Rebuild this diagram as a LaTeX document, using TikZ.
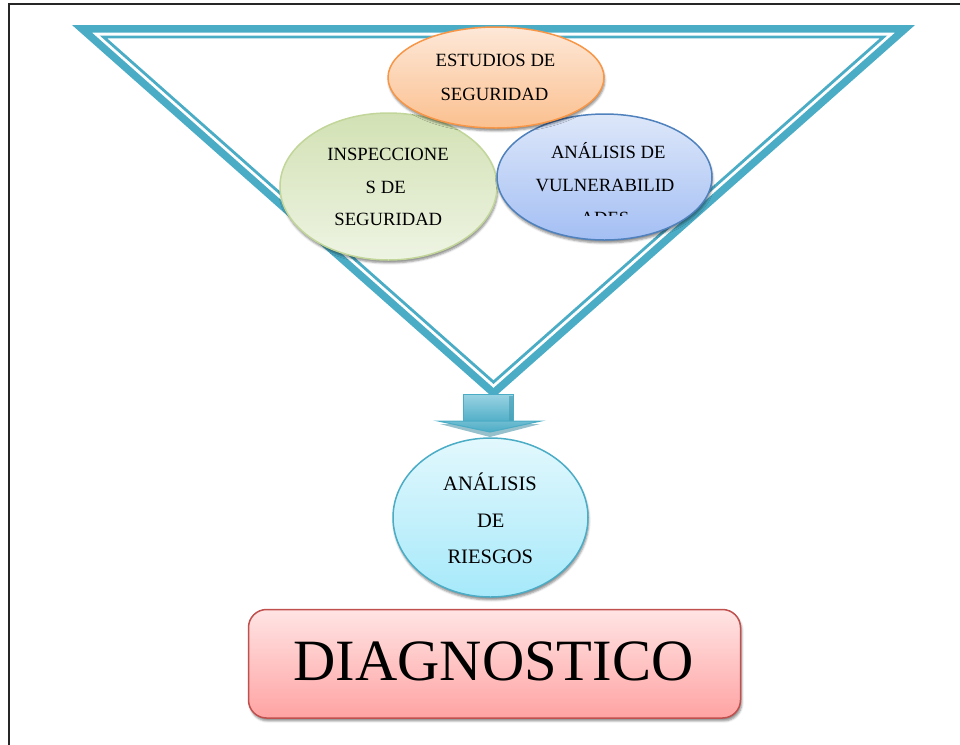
\documentclass[tikz,border=0pt]{standalone}
\usepackage{fontspec}
\setmainfont{Liberation Serif}
\usetikzlibrary{calc,shapes.geometric,shadows.blur}

\definecolor{triblue}{HTML}{4BACC6}
\definecolor{orline}{HTML}{F79646}
\definecolor{ortop}{HTML}{FDE8D8}
\definecolor{orbot}{HTML}{FBC08F}
\definecolor{grline}{HTML}{C2D69A}
\definecolor{grtop}{HTML}{D2E1B4}
\definecolor{grbot}{HTML}{EEF4E3}
\definecolor{blline}{HTML}{4F81BD}
\definecolor{bltop}{HTML}{DDE7F9}
\definecolor{blbot}{HTML}{A4BFF4}
\definecolor{cyline}{HTML}{4BACC6}
\definecolor{cytop}{HTML}{E2F8FD}
\definecolor{cybot}{HTML}{A6E9FA}
\definecolor{rdline}{HTML}{C0504D}
\definecolor{rdtop}{HTML}{FFE4E4}
\definecolor{rdbot}{HTML}{FFA3A3}
\definecolor{arrtop}{HTML}{9AD3E3}
\definecolor{arrbot}{HTML}{4FAEC7}
\definecolor{arrdark}{HTML}{3E8CA2}

\newcommand{\pxu}{0.75pt}

\tikzset{
  bubble/.style={ellipse, inner sep=0pt, line width=1.5*\pxu,
    blur shadow={shadow xshift=0.6pt, shadow yshift=-2.2pt,
      shadow blur radius=1.6pt, shadow opacity=45}},
  smalltxt/.style={anchor=base, inner sep=0pt, font=\fontsize{14}{16}\selectfont},
  midtxt/.style={anchor=base, inner sep=0pt, font=\fontsize{15.4}{18}\selectfont},
  bigtxt/.style={anchor=base, inner sep=0pt, font=\fontsize{43.9}{50}\selectfont},
}

\begin{document}
\begin{tikzpicture}[x=0.75pt, y=-0.75pt]
\useasboundingbox (0,0) rectangle (960,744);

% page frame (runs off the right and bottom edges)
\draw[line width=1.8*\pxu, black!85] (9,760) -- (9,4) -- (975,4);

% outer triangle and its offsets toward the incenter
\coordinate (A) at (72,25);
\coordinate (B) at (915,25);
\coordinate (C) at (493.5,398);
\coordinate (I) at (493.5,184.7);
\foreach \n/\k in {1/0.95304, 2/0.93425, 3/0.91672}{
  \coordinate (A\n) at ($(I)!\k!(A)$);
  \coordinate (B\n) at ($(I)!\k!(B)$);
  \coordinate (C\n) at ($(I)!\k!(C)$);
}
% thick band
\fill[triblue, even odd rule] (A) -- (B) -- (C) -- cycle
  (A1) -- (B1) -- (C1) -- cycle;
% thin inner line
\fill[triblue, even odd rule] (A2) -- (B2) -- (C2) -- cycle
  (A3) -- (B3) -- (C3) -- cycle;

% block arrow below the apex
\coordinate (shaftTL) at (463,394);
\coordinate (shaftBR) at (513,422);
\fill[arrdark, opacity=0.55] (440,424) -- (540,424) -- (490,437) -- cycle;
\shade[top color=arrtop, bottom color=arrbot, draw=triblue, line width=\pxu]
  (shaftTL) rectangle (shaftBR);
\fill[arrdark!60!triblue, opacity=0.6] (509,396) rectangle (513,421);
\shade[top color=triblue!80, bottom color=triblue, draw=triblue, line width=\pxu]
  (438,421) -- (541,421) -- (490,432) -- cycle;

% ellipses
\node[bubble, draw=grline, top color=grtop, bottom color=grbot,
  minimum width=217*\pxu, minimum height=147*\pxu] (insp) at (388.5,186.5) {};
\node[bubble, draw=blline, top color=bltop, bottom color=blbot,
  minimum width=215*\pxu, minimum height=126*\pxu] (vuln) at (604.5,177) {};
\node[bubble, draw=orline, top color=ortop, bottom color=orbot,
  minimum width=216*\pxu, minimum height=101*\pxu] (estu) at (496,77.5) {};
\node[bubble, draw=cyline, top color=cytop, bottom color=cybot,
  minimum width=195*\pxu, minimum height=159*\pxu] (ries) at (490.5,517.5) {};

% result box
\node[rectangle, rounded corners=13.5pt, draw=rdline, line width=1.5*\pxu,
  top color=rdtop, bottom color=rdbot,
  minimum width=492*\pxu, minimum height=108.5*\pxu,
  blur shadow={shadow xshift=1pt, shadow yshift=-2.2pt,
    shadow blur radius=1.6pt, shadow opacity=45}] (diag) at (494.5,663.75) {};

% labels
\node[smalltxt] (estu1) at (495.5,66.7) {ESTUDIOS DE};
\node[smalltxt] (estu2) at (494.5,100) {SEGURIDAD};

\node[smalltxt] (insp1) at (388,160) {INSPECCIONE};
\node[smalltxt] (insp2) at (385.7,193) {S DE};
\node[smalltxt] (insp3) at (388.3,225) {SEGURIDAD};

\node[smalltxt] (vuln1) at (608.3,158) {ANÁLISIS DE};
\node[smalltxt] (vuln2) at (605,191) {VULNERABILID};
\begin{scope}
  \clip (497,200) rectangle (712,215.5);
  \node[smalltxt] (vuln3) at (605,224) {ADES};
\end{scope}

\node[midtxt] (ries1) at (490,490) {ANÁLISIS};
\node[midtxt] (ries2) at (490.8,527) {DE};
\node[midtxt] (ries3) at (490.3,563) {RIESGOS};

\node[bigtxt] (diagtxt) at (493.5,680.5) {DIAGNOSTICO};
\end{tikzpicture}
\end{document}
